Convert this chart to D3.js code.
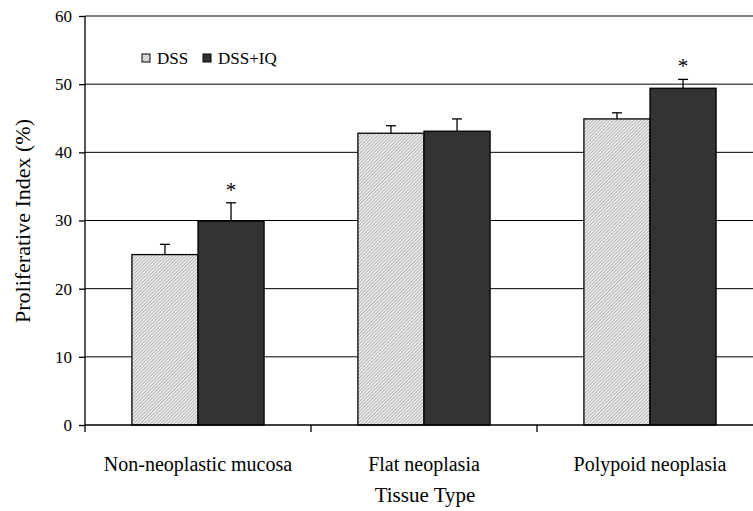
<!DOCTYPE html>
<html><head><meta charset="utf-8">
<script src="https://cdn.jsdelivr.net/npm/d3@7"></script>
<style>body{margin:0;background:#fff}svg{display:block}svg text{font-family:"Liberation Serif",serif !important;fill:#000}</style>
</head><body><svg id="c" width="753" height="511"></svg>
<script>
const categories = ["Non-neoplastic mucosa", "Flat neoplasia", "Polypoid neoplasia"];
const seriesNames = ["DSS", "DSS+IQ"];
const dssValues = [25.0, 42.8, 44.9];
const dssErrors = [1.5, 1.1, 0.9];
const iqValues = [29.9, 43.1, 49.4];
const iqErrors = [2.7, 1.8, 1.3];
const significant = [false, true, false, false, false, true]; // per bar order: cat0 DSS, cat0 IQ, ...
const yTicks = [0, 10, 20, 30, 40, 50, 60];

(function(){
const svg = d3.select("#c");
const mLeft = 85, mTop = 16, mBottom = 425, mRight = 763;
const x = d3.scaleBand().domain(categories).range([mLeft, mRight]).paddingInner(0).paddingOuter(0);
const y = d3.scaleLinear().domain([0, 60]).range([mBottom, mTop]);
const xs = d3.scaleBand().domain(seriesNames).range([0, x.bandwidth()]).paddingOuter(0.71).paddingInner(0);

const defs = svg.append("defs");
const pat = defs.append("pattern").attr("id", "hatch").attr("patternUnits", "userSpaceOnUse")
  .attr("width", 2.4).attr("height", 2.4).attr("patternTransform", "rotate(45)");
pat.append("rect").attr("width", 2.4).attr("height", 2.4).attr("fill", "#ececec");
pat.append("line").attr("x1", 0).attr("y1", 0).attr("x2", 0).attr("y2", 2.4).attr("stroke", "#7a7a7a").attr("stroke-width", 0.9);

svg.append("g").selectAll("line").data(yTicks.filter(d => d > 0)).join("line")
  .attr("x1", mLeft).attr("x2", 753).attr("y1", d => y(d)).attr("y2", d => y(d))
  .attr("stroke", "#000").attr("stroke-width", 1);

const data = [];
categories.forEach((c, i) => {
  data.push({c, s: "DSS", v: dssValues[i], e: dssErrors[i], sig: significant[i*2]});
  data.push({c, s: "DSS+IQ", v: iqValues[i], e: iqErrors[i], sig: significant[i*2+1]});
});

const g = svg.append("g");
g.selectAll("g.err").data(data).join("g").attr("class", "err").each(function(d) {
  const cx = x(d.c) + xs(d.s) + xs.bandwidth() / 2;
  const sel = d3.select(this);
  sel.append("line").attr("x1", cx).attr("x2", cx).attr("y1", y(d.v)).attr("y2", y(d.v + d.e)).attr("stroke", "#000").attr("stroke-width", 1.3);
  sel.append("line").attr("x1", cx - 5).attr("x2", cx + 5).attr("y1", y(d.v + d.e)).attr("y2", y(d.v + d.e)).attr("stroke", "#000").attr("stroke-width", 1.3);
  if (d.sig) sel.append("text").attr("x", cx).attr("y", y(d.v + d.e) - 6).attr("text-anchor", "middle").attr("font-size", 21).text("*");
});
g.selectAll("rect.bar").data(data).join("rect").attr("class", "bar")
  .attr("x", d => x(d.c) + xs(d.s)).attr("width", xs.bandwidth())
  .attr("y", d => y(d.v)).attr("height", d => y(0) - y(d.v))
  .attr("fill", d => d.s === "DSS" ? "url(#hatch)" : "#333333")
  .attr("stroke", "#000").attr("stroke-width", 1.3);

const ya = svg.append("g").attr("transform", `translate(${mLeft},0)`)
  .call(d3.axisLeft(y).tickValues(yTicks).tickSize(6).tickPadding(7));
ya.attr("font-family", null);
ya.select(".domain").attr("stroke", "#000").attr("stroke-width", 1.3).attr("d", `M0,${mTop}V${mBottom}`);
ya.selectAll("text").attr("font-size", 17);
ya.selectAll(".tick line").attr("stroke-width", 1.3);

const xa = svg.append("g").attr("transform", `translate(0,${mBottom})`);
xa.append("line").attr("x1", mLeft).attr("x2", 753).attr("stroke", "#000").attr("stroke-width", 1.3);
xa.selectAll("line.tk").data(categories).join("line").attr("class", "tk")
  .attr("x1", d => x(d)).attr("x2", d => x(d)).attr("y1", 0).attr("y2", 7).attr("stroke", "#000").attr("stroke-width", 1.3);
xa.selectAll("text").data(categories).join("text")
  .attr("x", d => x(d) + x.bandwidth() / 2).attr("y", 46).attr("text-anchor", "middle").attr("font-size", 20).text(d => d);

svg.append("text").attr("x", 425).attr("y", 502).attr("text-anchor", "middle").attr("font-size", 21).text("Tissue Type");
svg.append("text").attr("transform", "translate(30,221) rotate(-90)").attr("text-anchor", "middle").attr("font-size", 22).text("Proliferative Index (%)");

const leg = svg.append("g");
const legX = [142, 203];
seriesNames.forEach((s, i) => {
  leg.append("rect").attr("x", legX[i]).attr("y", 54).attr("width", 8).attr("height", 8)
    .attr("fill", i === 0 ? "url(#hatch)" : "#333333").attr("stroke", "#000").attr("stroke-width", 1);
  leg.append("text").attr("x", legX[i] + 15).attr("y", 64).attr("font-size", 17).text(s);
});
})();
</script></body></html>
